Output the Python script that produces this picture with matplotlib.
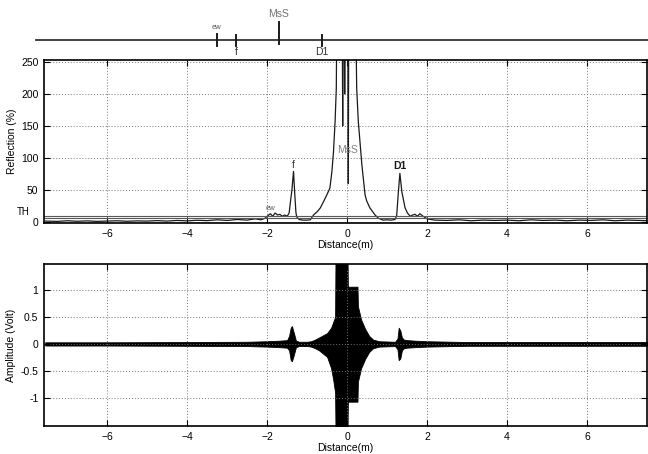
import matplotlib
matplotlib.use("Agg")
import matplotlib.pyplot as plt

plt.rcParams['font.family'] = ['Liberation Sans', 'DejaVu Sans']
plt.rcParams['font.size'] = 7.5

# reflection curve (%) vs distance (m)
refl_x = [-7.55, -7.25, -7.0, -6.75, -6.5, -6.25, -6.0, -5.75, -5.5, -5.25, -5.0,
          -4.75, -4.5, -4.25, -4.0, -3.75, -3.5, -3.25, -3.0, -2.75, -2.5, -2.3,
          -2.15, -2.05, -1.98, -1.92, -1.86, -1.8, -1.74, -1.68, -1.62, -1.56,
          -1.5, -1.45, -1.42, -1.38, -1.36, -1.34, -1.31, -1.28, -1.26, -1.2,
          -1.1, -1.0, -0.92, -0.84, -0.75, -0.67, -0.58, -0.51, -0.43, -0.38,
          -0.34, -0.30, -0.27, -0.26, -0.12, -0.11, -0.10, -0.07, -0.06, -0.05,
          0.02, 0.03, 0.04, 0.22, 0.24, 0.28, 0.37, 0.45, 0.49, 0.57, 0.7, 0.78,
          0.9, 1.0, 1.1, 1.2, 1.24, 1.28, 1.32, 1.37, 1.45, 1.51, 1.58, 1.64,
          1.7, 1.76, 1.82, 1.9, 2.0, 2.2, 2.5, 2.8, 3.1, 3.4, 3.7, 4.0, 4.3,
          4.6, 4.9, 5.2, 5.5, 5.8, 6.1, 6.4, 6.7, 7.0, 7.3, 7.55]
refl_y = [1.5, 1.0, 2.0, 1.2, 1.8, 1.0, 1.5, 2.0, 1.2, 1.8, 1.5,
          2.2, 1.5, 2.5, 1.8, 2.8, 2.2, 3.5, 2.5, 4.0, 3.0, 5.0,
          3.5, 6.0, 10.0, 13.0, 9.0, 14.0, 11.0, 12.0, 9.0, 11.0,
          9.0, 14.0, 30.0, 50.0, 65.0, 79.0, 45.0, 15.0, 8.0, 4.0,
          3.0, 3.0, 3.5, 11.0, 16.0, 22.0, 33.0, 42.0, 53.0, 79.0,
          110.0, 157.0, 209.0, 300.0, 300.0, 150.0, 300.0, 300.0, 200.0, 300.0,
          300.0, 60.0, 300.0, 300.0, 209.0, 157.0, 89.0, 42.0, 33.0, 22.0, 11.0, 6.0,
          3.0, 3.5, 3.0, 4.0, 10.0, 45.0, 76.0, 47.0, 22.0, 14.0, 9.0, 11.0,
          12.0, 9.0, 13.0, 9.0, 5.0, 3.0, 2.5, 3.5, 2.0, 3.0, 2.5, 3.0, 2.0,
          3.5, 2.5, 3.0, 2.0, 3.0, 2.5, 3.5, 2.0, 3.0, 2.5, 2.0]
threshold = 9.5

# amplitude envelope (Volt) vs distance (m)
amp_x = [-7.55, -6.0, -4.0, -2.5, -2.0, -1.7, -1.5, -1.45, -1.41, -1.38, -1.33,
         -1.28, -1.2, -1.0, -0.9, -0.8, -0.7, -0.6, -0.5, -0.4, -0.35, -0.3,
         -0.29, 0.01, 0.02, 0.26, 0.27, 0.35, 0.45, 0.55, 0.65, 0.8, 1.2, 1.26,
         1.29, 1.33, 1.37, 1.42, 1.5, 1.7, 2.0, 3.0, 5.0, 7.55]
amp_hi = [0.03, 0.03, 0.035, 0.04, 0.05, 0.06, 0.07, 0.15, 0.30, 0.33, 0.20,
          0.06, 0.04, 0.04, 0.05, 0.08, 0.12, 0.16, 0.20, 0.30, 0.40, 0.50,
          1.60, 1.60, 1.06, 1.06, 0.70, 0.45, 0.28, 0.15, 0.08, 0.05, 0.04, 0.10,
          0.30, 0.25, 0.12, 0.08, 0.07, 0.06, 0.05, 0.035, 0.035, 0.035]
amp_lo = [-0.03, -0.03, -0.035, -0.04, -0.05, -0.06, -0.07, -0.12, -0.30, -0.32, -0.20,
          -0.06, -0.04, -0.04, -0.05, -0.08, -0.12, -0.18, -0.24, -0.45, -0.65, -0.90,
          -1.60, -1.60, -1.07, -1.07, -0.70, -0.45, -0.28, -0.15, -0.08, -0.05, -0.04, -0.10,
          -0.30, -0.27, -0.12, -0.08, -0.07, -0.06, -0.05, -0.035, -0.035, -0.035]

# schematic line at the top
schem_pos = [217, 236, 279, 322]
schem_names = ["ew", "f", "MsS", "D1"]

xlim = (-7.58, 7.5)


def matlab_axes(ax):
    ax.set_xlim(*xlim)
    ax.set_xticks([-6, -4, -2, 0, 2, 4, 6])
    ax.grid(True, linestyle=(0, (1, 2)), color='0.45', linewidth=0.7)
    ax.tick_params(direction='in', length=4, top=True, right=True, pad=4)
    for s in ax.spines.values():
        s.set_linewidth(1.2)
    ax.set_xlabel("Distance(m)", labelpad=1)


fig = plt.figure(figsize=(6.48, 4.54), dpi=100)

# schematic
ax0 = fig.add_axes([0, 1 - 58 / 454, 1, 58 / 454])
ax0.set_xlim(0, 648)
ax0.set_ylim(58, 0)
ax0.axis('off')
ax0.plot([36, 648], [40, 40], color='0.2', lw=1.3)
tick_span = {"ew": (34, 46), "f": (35, 46), "MsS": (22, 44), "D1": (35, 46)}
for p, n in zip(schem_pos, schem_names):
    y0, y1 = tick_span[n]
    ax0.plot([p, p], [y0, y1], color='0.1', lw=1.4)
    if n == "ew":
        ax0.text(p, 31, n, ha='center', va='bottom', fontsize=5.5, color='0.35')
    elif n == "MsS":
        ax0.text(p, 19, n, ha='center', va='bottom', fontsize=7.5, color='0.45')
    else:
        ax0.text(p, 47, n, ha='center', va='top', fontsize=7.5, color='0.2')

# reflection
ax1 = fig.add_axes([44 / 648, 1 - 223 / 454, 603 / 648, 163 / 454])
ax1.plot(refl_x, refl_y, color='0.1', lw=0.9)
ax1.axhline(threshold, color='0.35', lw=0.8)
ax1.axhline(threshold - 3, color='0.35', lw=0.8)
ax1.set_ylim(-1.5, 253)
ax1.set_yticks([0, 50, 100, 150, 200, 250])
matlab_axes(ax1)
ax1.set_ylabel("Reflection (%)", labelpad=3)
ax1.text(-7.95, threshold + 6, "TH", ha='right', va='center', fontsize=7)
ax1.text(-1.92, 15, "ew", ha='center', va='bottom', fontsize=5.5, color='0.35')
ax1.text(-1.34, 82, "f", ha='center', va='bottom', fontsize=7.5, color='0.2')
ax1.text(0.0, 112, "MsS", ha='center', va='center', fontsize=7.5, color='0.5')
ax1.text(1.32, 80, "D1", ha='center', va='bottom', fontsize=7.5,
         fontweight='bold', color='0.1')

# amplitude
ax2 = fig.add_axes([44 / 648, 1 - 426 / 454, 603 / 648, 162 / 454])
ax2.fill_between(amp_x, amp_lo, amp_hi, color='black', lw=0.6, edgecolor='black')
ax2.set_ylim(-1.52, 1.48)
ax2.set_yticks([-1, -0.5, 0, 0.5, 1])
ax2.set_yticklabels(["-1", "-0.5", "0", "0.5", "1"])
matlab_axes(ax2)
ax2.set_ylabel("Amplitude (Volt)", labelpad=3)

fig.savefig("out.png", dpi=100)
